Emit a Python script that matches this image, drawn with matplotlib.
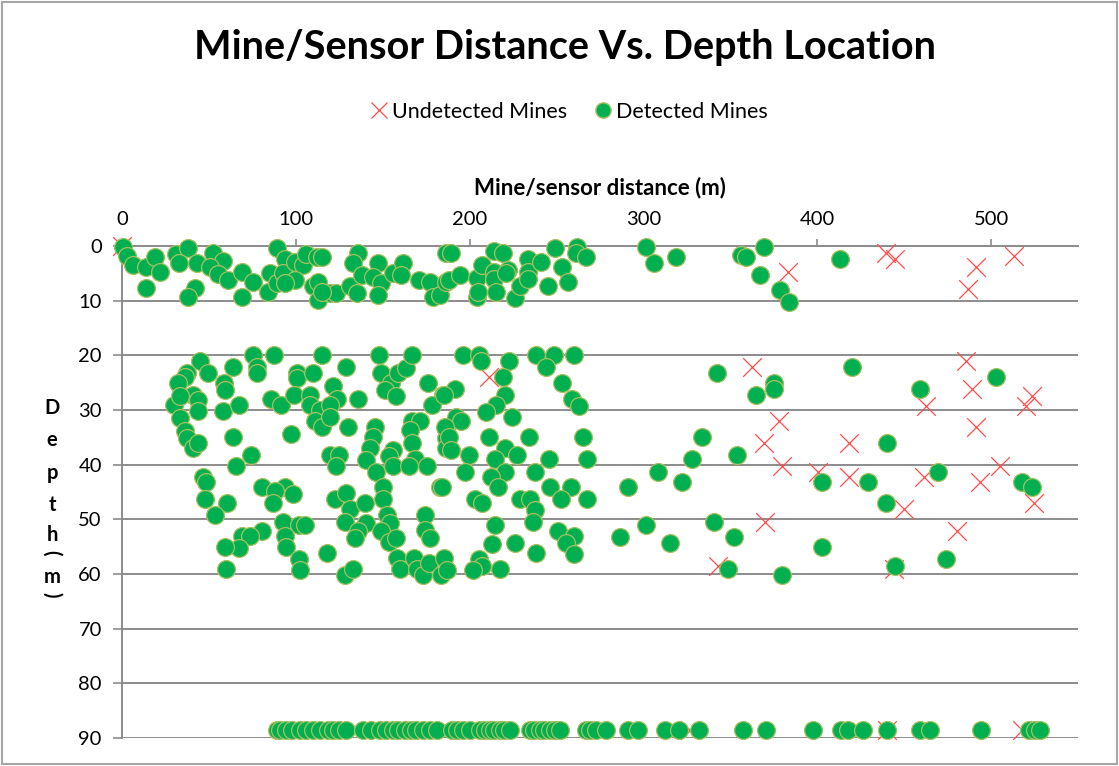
import matplotlib
matplotlib.use('Agg')
import matplotlib.pyplot as plt
from matplotlib.patches import Rectangle
from matplotlib.lines import Line2D

plt.rcParams['font.family'] = ['Lato', 'DejaVu Sans']

# Undetected mines: distance (m), depth (m)
undet_x = [0, 383, 439.5, 445, 491.6, 487, 513,
           211, 362.4, 378, 369.4, 379.7, 369.8, 342.8,
           485.4, 488.9, 462.4, 523.6, 520.2, 491.6, 418, 400.2, 418, 461.5,
           493.5, 505.1, 524.7, 450, 480.6, 444.2,
           327, 440, 518]
undet_y = [0, 4.7, 1.2, 2.3, 3.9, 7.9, 1.8,
           24, 22.2, 32.1, 36.1, 40.2, 50.4, 58.5,
           21, 26.2, 29.2, 27.4, 29.2, 33.2, 36.1, 41.3, 42.3, 42.3,
           43.1, 40.2, 47, 48.1, 52.2, 59.1,
           88.5, 88.5, 88.5]

# Detected mines, shallow band (0-10 m)
det_top_x = [0.4, 3, 6.5, 14, 19, 22, 14, 31, 38, 33, 43, 42, 38, 52.5, 58, 50.5, 55, 61,
             69, 75.5, 69, 85, 84, 89, 93.5, 89, 92.7, 99.5, 104, 106, 112, 115, 99.5,
             93.7, 110, 113, 113, 119.5, 123.4, 115, 131, 136, 133, 138, 135, 147, 144.5,
             149, 147, 156, 161.7, 160.7, 171, 177, 179, 183, 186.6, 186.6,
             189, 188, 194.6, 204, 204, 205, 207, 214, 219, 214, 214, 215, 222, 221,
             226, 229, 233.5, 233.5, 233.5, 241, 245, 249, 253, 256.5, 262, 261, 266.7,
             301.5, 306, 319, 356, 359, 369.5, 367, 378.5, 384, 413]
det_top_y = [0.1, 1.8, 3.5, 3.9, 2, 4.7, 7.6, 1.5, 0.4, 3.2, 3.2, 7.7, 9.3, 1.3, 2.7, 3.8, 5.1, 6.2,
             4.7, 6.5, 9.3, 5, 8.4, 0.4, 2.3, 6.8, 5, 2.9, 3.5, 1.5, 2, 2.1, 6.2,
             6.8, 7.4, 6.5, 9.9, 8.6, 8.6, 8.4, 7.4, 1.3, 3.2, 5.3, 8.6, 3.2, 5.6,
             6.8, 9, 5, 3.2, 5.3, 6.2, 6.5, 9.3, 9, 1.3, 6.5,
             1.3, 6.2, 5.3, 5.9, 9.3, 8.4, 3.5, 0.9, 1.3, 4.7, 6.1, 8.4, 4.4, 5,
             9.6, 7.4, 2.3, 4.7, 6.1, 2.9, 7.4, 0.4, 3.8, 6.5, 0.1, 1.3, 2.1,
             0.1, 3.2, 2, 1.6, 2.1, 0.1, 5.3, 8, 10.2, 2.4]

# Detected mines, middle band (20-60 m)
det_mid_x = [44.8, 37.5, 36.2, 32.4, 49.6, 63.6, 75.1, 77.4, 77.4, 87.4, 100.4, 100.4, 110,
             115.3, 129.1, 147.9, 149.2, 155, 151.1, 157.9, 158.8, 163.2, 167, 176, 184.6,
             178.6, 58.6, 59.2, 40.6, 43.9, 29.9, 33.4, 43.9, 33.4, 36.2, 37.5, 41, 43.9,
             57.9, 67.4, 63.6, 86, 91.2, 98.9, 108.4, 108, 113.8, 121.5, 123.9, 119.6,
             111.2, 115.1, 119.4, 97.5, 135.8, 130.1, 145.4, 144.4, 142.5, 140.6, 146.4,
             119.6, 125, 123.4, 156, 153.7, 156, 167.1, 171.3, 165.5, 167.1, 168.4, 165.1,
             175.5, 186.6, 186.6, 186.6, 65.5, 74, 46.8, 48.3, 47.7, 60.2, 53.4, 80.8,
             93.6, 87.9, 98.5, 87, 122.4, 129.1, 131.4, 139.7, 150.1, 150.1, 152.4, 154.3,
             182.8, 174.1, 174.1, 177, 92.4, 102, 105.2, 93.7, 94.6, 128.2, 140.6, 135.8,
             133.9, 149, 153.8, 157.6, 80.3, 69.3, 73.6, 67.4, 59.2, 59.8, 102, 102.3,
             118.1, 128.2, 133, 158.2, 159.8, 167.9, 169.9, 173.3, 176.6, 183.4, 185.3,
             187.2,
             196.2, 205.4, 206.7, 222.6, 219.2, 220.1, 215.3, 209.6, 224.5, 238.3, 248.8,
             244, 260.3, 253.3, 259, 262.9, 191.4, 185, 192.4, 195.3, 185.6, 188.1, 189.5,
             199.6, 211.1, 220.1, 227.2, 214.4, 220.1, 212.5, 216.3, 197.1, 184.3, 234.3,
             237.8, 245.5, 265.1, 267.6, 246.1, 258.2, 252.4, 267.6, 202.9, 207.3, 228.7,
             234.5, 237.4, 236.4, 214.4, 213.1, 226, 238.3, 250.8, 260.3, 255.5, 260.3,
             205.4, 207.3, 202, 217.7,
             291, 286.6, 301.5, 308.2, 315, 322, 327.8, 333.5, 342.5, 354, 340.8, 352.2,
             348.4, 364.7, 375.3, 375.3, 379.7,
             419.9, 459, 502.7, 440.4, 402.7, 429, 469.2, 439.5, 517.6, 523.7, 402.7, 445,
             474]
det_mid_y = [21, 23.3, 24, 25.1, 23.3, 22.1, 19.9, 22.1, 23.3, 19.9, 23.3, 24.2, 23.3,
             19.9, 22.1, 19.9, 23.3, 25.1, 26.3, 27.4, 23.3, 22.4, 19.9, 25.1, 27.2,
             29.1, 25.1, 26.3, 27.2, 28.1, 29.1, 27.4, 30.2, 31.5, 33.9, 35.2, 37, 36.1,
             30.2, 29.1, 35, 28, 29.1, 27.2, 27.2, 29.1, 30, 25.7, 28, 29.1,
             32.1, 33.2, 31.3, 34.3, 28, 33.2, 33.2, 35, 37, 39.1, 41.3,
             38.2, 38.2, 40.2, 37.3, 38.5, 40.2, 32.1, 32.1, 33.6, 36.1, 39, 40.2,
             40.2, 33.4, 35.2, 37, 40.2, 38.2, 42.2, 43.1, 46.3, 47, 49.2, 44,
             44, 44.9, 45.4, 47, 46.3, 45.1, 48.1, 47, 44, 46.3, 49.2, 50.7,
             44, 49.2, 52, 53.4, 50.4, 51, 51, 53.1, 55.1, 50.4, 50.7, 52.1,
             53.5, 52.2, 54.1, 53.5, 52.1, 53.1, 53.1, 55.3, 55.1, 59.1, 57.3, 59.2,
             56.1, 60.1, 59.1, 57.1, 59.1, 57.1, 59.1, 60.1, 57.9, 60.1, 57.1,
             59.2,
             19.9, 19.9, 21.1, 21, 24, 27.2, 29.1, 30.3, 31.3, 19.9, 19.9,
             22.2, 19.9, 25.1, 28, 29.2, 26.2, 27.2, 31.3, 32.1, 33.2, 35, 37.3,
             38.2, 35, 37, 38.2, 39, 41.3, 42.3, 44, 41.3, 44, 35,
             41.3, 39, 35, 39, 44, 44, 46.3, 46.3, 46.3, 47, 46.3,
             46.3, 48.3, 50.4, 51, 54.5, 54.3, 56.2, 52.2, 53.1, 54.3, 56.3,
             57.3, 58.5, 59.2, 59.1,
             44, 53.3, 51, 41.3, 54.4, 43.1, 39, 35, 23.3, 38.2, 50.4, 53.3,
             59.1, 27.2, 25.1, 26.2, 60.1,
             22.2, 26.2, 24, 36.1, 43.1, 43.1, 41.3, 47, 43.1, 44.1, 55.1, 58.5,
             57.3]

# Detected mines, deep row (all at ~88 m)
det_bot_x = [88.9, 91, 94.6, 98, 102.3, 106, 110, 114, 118.6, 121.5, 125, 129.1, 138.7,
             143, 148.3, 152, 155.9, 159, 162.6, 166, 169.4, 173, 177, 181, 190, 193,
             196.2, 200, 205.7, 209, 211.5, 214, 217.2, 220, 223, 234.5, 237, 240.2,
             243, 246, 249, 251.7, 267.1, 269, 272.8, 278.6, 291, 296.8, 312.6, 320.3,
             332.2, 357.1, 370.5, 397.7, 413.6, 417.4, 426.1, 440, 459, 465, 494, 522,
             525, 528]
det_bot_y = [88.5] * len(det_bot_x)

det_x = det_top_x + det_mid_x + det_bot_x
det_y = det_top_y + det_mid_y + det_bot_y

W, H = 1119, 766
fig = plt.figure(figsize=(W / 100, H / 100), dpi=100)
ax = fig.add_axes([122 / W, 1 - 738 / H, (1078 - 122) / W, (738 - 246) / H])

red = '#FF4A4A'
green = '#00B050'
edge = '#A8C060'
grid_c = '#8C8C8C'

ax.scatter(undet_x, undet_y, marker='x', s=180, c=red, linewidths=0.9,
           clip_on=False, zorder=3)
ax.scatter(det_x, det_y, marker='o', s=165, c=green, edgecolors=edge,
           linewidths=0.9, clip_on=False, zorder=4)

ax.set_xlim(0, 550)
ax.set_ylim(90, 0)
ax.set_xticks([0, 100, 200, 300, 400, 500])
ax.set_yticks(range(0, 91, 10))
ax.xaxis.tick_top()
ax.xaxis.set_label_position('top')
ax.tick_params(axis='x', direction='out', length=5, width=1.2, color=grid_c,
               labelsize=14.5, pad=8)
ax.tick_params(axis='y', direction='out', length=6.5, width=1.2, color=grid_c,
               labelsize=14.5, pad=8)

for side in ['right', 'bottom']:
    ax.spines[side].set_visible(False)
for side in ['top', 'left']:
    ax.spines[side].set_color(grid_c)
    ax.spines[side].set_linewidth(1.4)

ax.set_axisbelow(True)
ax.grid(axis='y', color=grid_c, linewidth=1.4)

ax.set_xlabel('Mine/sensor distance (m)', fontsize=16, fontweight='bold', labelpad=12)

# Stacked vertical axis title
letters = ['D', 'e', 'p', 't', 'h', '(', 'm', ')']
ys = [408, 440, 473, 505, 535, 553, 577, 595]
for ch, yy in zip(letters, ys):
    rot = -90 if ch in '()' else 0
    fig.text(52 / W, 1 - yy / H, ch, ha='center', va='center', fontsize=14.5,
             fontweight='bold', rotation=rot)

fig.text(565 / W, 1 - 48 / H, 'Mine/Sensor Distance Vs. Depth Location',
         ha='center', va='center', fontsize=28.5, fontweight='bold')

handles = [Line2D([], [], marker='x', ls='none', color=red, markersize=11, mew=0.9),
           Line2D([], [], marker='o', ls='none', color=green, markeredgecolor=edge,
                  markersize=11)]
fig.legend(handles, ['Undetected Mines', 'Detected Mines'], loc='center',
           bbox_to_anchor=(568 / W, 1 - 112 / H), ncol=2, frameon=False,
           fontsize=15.5, handletextpad=0.1, columnspacing=1.2, handlelength=1.0)

fig.patches.append(Rectangle((0.002, 0.003), 0.996, 0.994, transform=fig.transFigure,
                             fill=False, edgecolor='#A6A6A6', linewidth=1.5))

fig.savefig('out.png', dpi=100)
